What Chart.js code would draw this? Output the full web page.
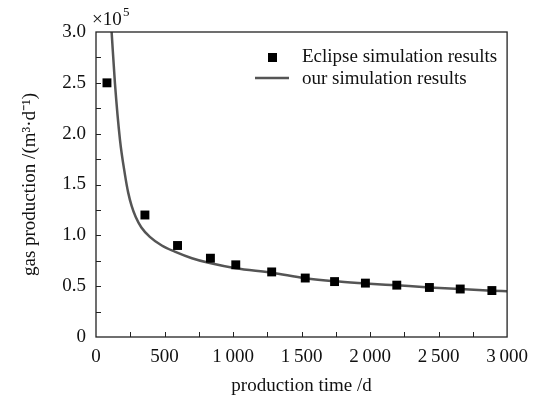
<!DOCTYPE html>
<html>
<head>
<meta charset="utf-8">
<script src="https://cdn.jsdelivr.net/npm/chart.js@4/dist/chart.umd.min.js"></script>
<style>
  html, body { margin: 0; padding: 0; background: #fff; }
  #wrap { width: 537px; height: 401px; }
</style>
</head>
<body>
<div id="wrap"><canvas id="chart"></canvas></div>
<script>
// Eclipse results (squares), production time in days, gas rate in 1e5 m3/d
const eclipseDays = [80, 357, 595, 835, 1020, 1282, 1527, 1741, 1966, 2195, 2433, 2658, 2889];
const eclipseRate = [2.50, 1.20, 0.90, 0.775, 0.71, 0.64, 0.58, 0.545, 0.53, 0.51, 0.487, 0.472, 0.457];

// our simulation results (curve)
const curveDays = [114, 138, 175, 211, 235, 260, 290, 330, 393, 480, 575, 700, 830, 1020, 1282, 1527, 1741, 1966, 2195, 2433, 2658, 2889, 3000];
const curveRate = [3.0, 2.5, 1.94, 1.60, 1.42, 1.29, 1.18, 1.08, 0.985, 0.90, 0.84, 0.775, 0.727, 0.676, 0.632, 0.578, 0.548, 0.527, 0.508, 0.488, 0.471, 0.456, 0.45];

const SERIF = '"Liberation Serif", "Times New Roman", serif';
const INK = '#111';
const FS = 19;

// ticks pointing inward, box frame, legend and x10^5 note
const frame = {
  id: 'frame',
  afterDraw(chart) {
    const { ctx, chartArea: a, scales: { x, y } } = chart;
    ctx.save();
    ctx.strokeStyle = '#222';
    ctx.lineWidth = 1.3;
    ctx.strokeRect(a.left, a.top, a.right - a.left, a.bottom - a.top);

    ctx.lineWidth = 1;
    ctx.beginPath();
    for (let v = 250; v < 3000; v += 250) {
      const px = Math.round(x.getPixelForValue(v)) + 0.5;
      ctx.moveTo(px, a.bottom);
      ctx.lineTo(px, a.bottom - 5);
    }
    for (let v = 0.25; v < 3; v += 0.25) {
      const py = Math.round(y.getPixelForValue(v)) + 0.5;
      ctx.moveTo(a.left, py);
      ctx.lineTo(a.left + 5, py);
    }
    ctx.stroke();

    // legend
    ctx.fillStyle = '#000';
    ctx.fillRect(268, 53, 9, 9);
    ctx.strokeStyle = '#555';
    ctx.lineWidth = 2.5;
    ctx.beginPath();
    ctx.moveTo(255, 78);
    ctx.lineTo(289, 78);
    ctx.stroke();
    ctx.fillStyle = INK;
    ctx.font = FS + 'px ' + SERIF;
    ctx.textBaseline = 'middle';
    ctx.fillText('Eclipse simulation results', 302, 57);
    ctx.fillText('our simulation results', 302, 79);

    // exponent note
    ctx.textBaseline = 'alphabetic';
    ctx.fillText('\u00d710', 92, 25);
    ctx.font = '13px ' + SERIF;
    ctx.fillText('5', 123, 16);
    ctx.restore();
  }
};

new Chart(document.getElementById('chart'), {
  type: 'scatter',
  data: {
    datasets: [
      {
        label: 'Eclipse simulation results',
        data: eclipseDays.map((d, i) => ({ x: d, y: eclipseRate[i] })),
        pointStyle: 'rect',
        pointRadius: 6.3,
        pointBorderWidth: 0,
        backgroundColor: '#000',
        order: 1
      },
      {
        label: 'our simulation results',
        data: curveDays.map((d, i) => ({ x: d, y: curveRate[i] })),
        showLine: true,
        cubicInterpolationMode: 'monotone',
        borderColor: '#555',
        borderWidth: 2.5,
        pointRadius: 0,
        order: 2
      }
    ]
  },
  options: {
    responsive: true,
    maintainAspectRatio: false,
    animation: false,
    layout: { padding: { top: 32, right: 29, left: 0, bottom: 0 } },
    plugins: { legend: { display: false }, tooltip: { enabled: false } },
    scales: {
      x: {
        type: 'linear',
        min: 0, max: 3000,
        afterFit: s => { s.height = 64; },
        grid: { display: false, drawTicks: false },
        border: { display: false },
        ticks: {
          stepSize: 500,
          padding: 9,
          color: INK,
          font: { family: SERIF, size: FS },
          callback: v => v >= 1000 ? Math.floor(v / 1000) + '\u2009' + String(v % 1000).padStart(3, '0') : String(v)
        },
        title: {
          display: true,
          text: 'production time /d',
          color: INK,
          font: { family: SERIF, size: FS },
          padding: { top: 6 }
        }
      },
      y: {
        min: 0, max: 3,
        afterFit: s => { s.width = 96; },
        grid: { display: false, drawTicks: false },
        border: { display: false },
        ticks: {
          stepSize: 0.5,
          padding: 10,
          color: INK,
          font: { family: SERIF, size: FS },
          callback: v => v === 0 ? '0' : v.toFixed(1)
        },
        title: {
          display: true,
          text: 'gas production /(m\u00b3\u00b7d\u207b\u00b9)',
          color: INK,
          font: { family: SERIF, size: FS },
          padding: { top: 19, bottom: 0 }
        }
      }
    }
  },
  plugins: [frame]
});
</script>
</body>
</html>
